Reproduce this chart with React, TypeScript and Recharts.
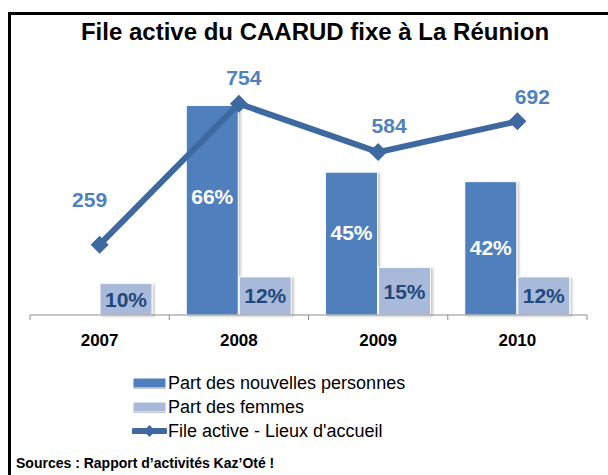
import { ComposedChart, Bar, Line, XAxis, YAxis, LabelList, Rectangle } from "recharts";

const years = ["2007", "2008", "2009", "2010"];
const nouvellesPersonnes = [null, 0.66, 0.45, 0.42];
const partFemmes = [0.1, 0.12, 0.15, 0.12];
const fileActive = [259, 754, 584, 692];
const seriesNames = ["Part des nouvelles personnes", "Part des femmes", "File active - Lieux d'accueil"];

const data = years.map((year, i) => ({
  year,
  nouvelles: nouvellesPersonnes[i],
  femmes: partFemmes[i],
  file: fileActive[i],
}));

const FONT = "'Liberation Sans', Arial, sans-serif";
const DARK = "#4f80bd";
const LIGHT = "#a8b9da";
const LINE = "#3d69a0";
const LINE_LABEL = "#4f81bd";
const NAVY = "#22497c";

const W = 608;
const H = 475;
const margin = { top: 61, right: 21, bottom: 130, left: 30 };
const band = (W - margin.left - margin.right) / years.length;

// nudges so the labels sit like in the original (one per year)
const lineLabelShift = [
  [-10, -45],
  [5, -26],
  [11, -27],
  [15, -25],
];
const darkLabelShift = [0, -14, -11, -1];

const pct = (v: number) => `${Math.round(v * 100)}%`;

function YearTick(props: any) {
  const { x, y, payload, index } = props;
  const left = x - band / 2;
  return (
    <g>
      <line x1={left} y1={315} x2={left} y2={320} stroke="#8c8c8c" />
      {index === years.length - 1 && (
        <line x1={x + band / 2} y1={315} x2={x + band / 2} y2={320} stroke="#8c8c8c" />
      )}
      <text x={x} y={y + 23} textAnchor="middle" fontFamily={FONT} fontWeight="bold" fontSize={17} fill="#000">
        {payload.value}
      </text>
    </g>
  );
}

function Diamond(props: any) {
  const { cx, cy } = props;
  if (cx == null || cy == null) return null;
  const r = 9;
  return <polygon points={`${cx},${cy - r} ${cx + r},${cy} ${cx},${cy + r} ${cx - r},${cy}`} fill={LINE} />;
}

function LineLabel(props: any) {
  const { x, y, value } = props;
  const i = fileActive.indexOf(value);
  const [dx, dy] = lineLabelShift[i] || [0, -26];
  return (
    <text x={x + dx} y={y + dy} textAnchor="middle" dominantBaseline="central" fontFamily={FONT} fontWeight="bold" fontSize={21} fill={LINE_LABEL}>
      {value}
    </text>
  );
}

const barLabel = (color: string, values: (number | null)[], shift?: number[]) => (props: any) => {
  const { x, y, width, height, value } = props;
  if (value == null) return null;
  const i = values.indexOf(value);
  const dy = shift ? shift[i] || 0 : 0;
  return (
    <text x={x + width / 2} y={y + height / 2 + dy} textAnchor="middle" dominantBaseline="central" fontFamily={FONT} fontWeight="bold" fontSize={21} fill={color}>
      {pct(value)}
    </text>
  );
};

const ShadowBar = (props: any) => <Rectangle {...props} filter="url(#barShadow)" />;

function LegendIcon({ kind }: { kind: number }) {
  if (kind === 2) {
    return (
      <svg width={35} height={14}>
        <line x1={2} y1={7} x2={33} y2={7} stroke={LINE} strokeWidth={6} strokeLinecap="round" />
        <polygon points="17.5,1 23.5,7 17.5,13 11.5,7" fill={LINE} />
      </svg>
    );
  }
  return (
    <svg width={35} height={14}>
      <rect x={1} y={2} width={33} height={10} fill={kind === 0 ? DARK : LIGHT} stroke="#fff" />
      <line x1={1} y1={12.5} x2={34} y2={12.5} stroke="#c9c9c9" />
    </svg>
  );
}

export default function App() {
  return (
    <div style={{ position: "absolute", left: 0, top: 0, width: W, height: H, background: "#fff", fontFamily: FONT, overflow: "hidden" }}>
      <div style={{ position: "absolute", left: 8, top: 12, width: W, height: H, borderTop: "3px solid #000", borderLeft: "3px solid #000" }} />
      <div style={{ position: "absolute", left: 315, top: 18, transform: "translateX(-50%)", whiteSpace: "nowrap", fontWeight: "bold", fontSize: 24, lineHeight: "28px", color: "#000" }}>
        File active du CAARUD fixe à La Réunion
      </div>
      <div style={{ position: "absolute", left: 0, top: 0 }}>
        <ComposedChart width={W} height={H} data={data} margin={margin} barSize={52} barGap={1}>
          <defs>
            <filter id="barShadow" x="-10%" y="-10%" width="130%" height="120%">
              <feDropShadow dx="2" dy="1" stdDeviation="1.2" floodColor="#000" floodOpacity="0.22" />
            </filter>
          </defs>
          <XAxis dataKey="year" height={30} stroke="#8c8c8c" tickLine={false} tick={<YearTick />} interval={0} />
          <YAxis yAxisId="pct" domain={[0, 0.8]} hide />
          <YAxis yAxisId="n" domain={[12, 904]} hide />
          <Bar yAxisId="pct" dataKey="nouvelles" name={seriesNames[0]} fill={DARK} stroke="#fff" strokeWidth={1} shape={ShadowBar} isAnimationActive={false}>
            <LabelList dataKey="nouvelles" content={barLabel("#fff", nouvellesPersonnes, darkLabelShift)} />
          </Bar>
          <Bar yAxisId="pct" dataKey="femmes" name={seriesNames[1]} fill={LIGHT} stroke="#fff" strokeWidth={1} shape={ShadowBar} isAnimationActive={false}>
            <LabelList dataKey="femmes" content={barLabel(NAVY, partFemmes)} />
          </Bar>
          <Line
            yAxisId="n"
            type="linear"
            dataKey="file"
            name={seriesNames[2]}
            stroke={LINE}
            strokeWidth={6}
            dot={<Diamond />}
            activeDot={false}
            isAnimationActive={false}
          >
            <LabelList dataKey="file" content={<LineLabel />} />
          </Line>
        </ComposedChart>
      </div>
      <div style={{ position: "absolute", left: 132, top: 371 }}>
        {seriesNames.map((name, i) => (
          <div key={name} style={{ display: "flex", alignItems: "center", height: 24, fontSize: 18, color: "#000", whiteSpace: "nowrap" }}>
            <LegendIcon kind={i} />
            <span style={{ marginLeft: 1 }}>{name}</span>
          </div>
        ))}
      </div>
      <div style={{ position: "absolute", left: 16, top: 455, fontWeight: "bold", fontSize: 14, color: "#000", whiteSpace: "nowrap" }}>
        Sources : Rapport d’activités Kaz’Oté !
      </div>
    </div>
  );
}
